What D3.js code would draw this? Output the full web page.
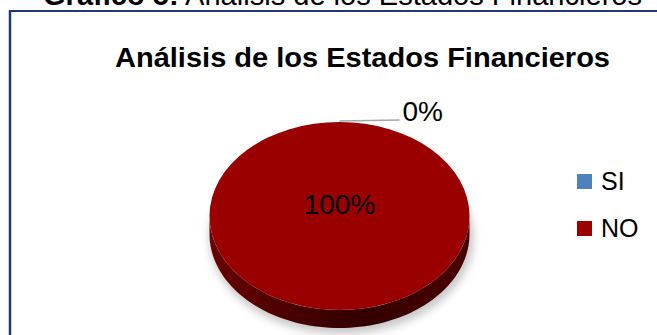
<!DOCTYPE html>
<html>
<head>
<meta charset="utf-8">
<script src="https://cdn.jsdelivr.net/npm/d3@7"></script>
<style>
  html, body { margin: 0; padding: 0; background: #ffffff; }
  svg { display: block; font-family: "Liberation Sans", Arial, sans-serif; }
</style>
</head>
<body>
<svg id="chart" width="657" height="335"></svg>
<script>
// Survey answers for the financial-statement question
const categories = ["SI", "NO"];
const values = [0, 100];
const sliceLabels = ["0%", "100%"];
const colors = ["#4f81bd", "#9b0000"];

const figureCaptionBold = "Gráfico 5:";
const figureCaptionRest = " Análisis de los Estados Financieros";
const chartTitle = "Análisis de los Estados Financieros";

const svg = d3.select("#chart");
const defs = svg.append("defs");

// Figure caption (partly above the page edge)
const cap = svg.append("text")
  .attr("x", 43).attr("y", 5)
  .attr("font-size", 29)
  .attr("textLength", 599).attr("lengthAdjust", "spacingAndGlyphs")
  .attr("fill", "#000");
cap.append("tspan").attr("font-weight", "bold").text(figureCaptionBold);
cap.append("tspan").text(figureCaptionRest);

// Chart frame: top and left rules
svg.append("line").attr("x1", 9).attr("x2", 657).attr("y1", 11).attr("y2", 11)
  .attr("stroke", "#1f3a75").attr("stroke-width", 2);
svg.append("line").attr("x1", 10).attr("x2", 10).attr("y1", 10).attr("y2", 335)
  .attr("stroke", "#1f3a75").attr("stroke-width", 2.5);

// Chart title
svg.append("text")
  .attr("x", 115).attr("y", 67)
  .attr("font-size", 28).attr("font-weight", "bold")
  .attr("textLength", 495).attr("lengthAdjust", "spacingAndGlyphs")
  .text(chartTitle);

// 3D pie geometry
const cx = 339.5, cy = 216, rx = 130, ry = 94, depth = 18;
const k = ry / rx;

const pie = d3.pie().sort(null).value(d => d)(values);
const arc = d3.arc().innerRadius(0).outerRadius(rx);

// Soft shadow under the pie
defs.append("filter").attr("id", "blur")
  .attr("x", "-20%").attr("y", "-20%").attr("width", "140%").attr("height", "140%")
  .append("feGaussianBlur").attr("stdDeviation", 4);
svg.append("ellipse")
  .attr("cx", cx + 2).attr("cy", cy + depth + 4)
  .attr("rx", rx + 2).attr("ry", ry + 2)
  .attr("fill", "#9a9a9a").attr("opacity", 0.55)
  .attr("filter", "url(#blur)");

// Side wall gradient
const sideGrad = defs.append("linearGradient").attr("id", "side")
  .attr("x1", "0").attr("x2", "1").attr("y1", "0").attr("y2", "0");
sideGrad.append("stop").attr("offset", "0").attr("stop-color", "#6a0000");
sideGrad.append("stop").attr("offset", "0.45").attr("stop-color", "#3c0000");
sideGrad.append("stop").attr("offset", "0.6").attr("stop-color", "#330000");
sideGrad.append("stop").attr("offset", "1").attr("stop-color", "#4a0000");

// Point on the top-face rim at a d3 pie angle (0 = 12 o'clock, clockwise)
const rim = (a, dy) => [cx + rx * Math.sin(a), cy - ry * Math.cos(a) + dy];

// Side walls for the visible (front) part of each slice
pie.forEach((d, i) => {
  const a0 = Math.max(d.startAngle, Math.PI / 2);
  const a1 = Math.min(d.endAngle, 3 * Math.PI / 2);
  if (a1 <= a0) return;
  const n = 80;
  const top = d3.range(n + 1).map(j => rim(a0 + (a1 - a0) * j / n, 0));
  const bot = d3.range(n + 1).map(j => rim(a1 - (a1 - a0) * j / n, depth));
  svg.append("path")
    .attr("d", d3.line()(top.concat(bot)) + "Z")
    .attr("fill", i === 1 ? "url(#side)" : d3.color(colors[i]).darker(1.5));
});

// Top face
const topFace = svg.append("g")
  .attr("transform", `translate(${cx},${cy}) scale(1,${k})`);
topFace.selectAll("path").data(pie).join("path")
  .attr("d", arc)
  .attr("fill", (d, i) => colors[i]);

// Leader line and label for the empty slice
const siAngle = pie[0].startAngle;
const [lx, ly] = rim(siAngle, 0);
svg.append("line")
  .attr("x1", lx).attr("y1", ly - 1)
  .attr("x2", lx + 60).attr("y2", ly - 2)
  .attr("stroke", "#a6a6a6").attr("stroke-width", 1.5);
svg.append("text")
  .attr("x", lx + 63).attr("y", ly - 1)
  .attr("font-size", 28)
  .text(sliceLabels[0]);

// Label inside the full slice
svg.append("text")
  .attr("x", cx).attr("y", 214)
  .attr("text-anchor", "middle")
  .attr("font-size", 28)
  .text(sliceLabels[1]);

// Legend
const legend = svg.append("g").attr("transform", "translate(577,174)");
const item = legend.selectAll("g").data(categories).join("g")
  .attr("transform", (d, i) => `translate(0,${i * 47})`);
item.append("rect")
  .attr("width", 15).attr("height", 15)
  .attr("fill", (d, i) => colors[i]);
item.append("text")
  .attr("x", 24).attr("y", 16)
  .attr("font-size", 25)
  .text(d => d);
</script>
</body>
</html>
